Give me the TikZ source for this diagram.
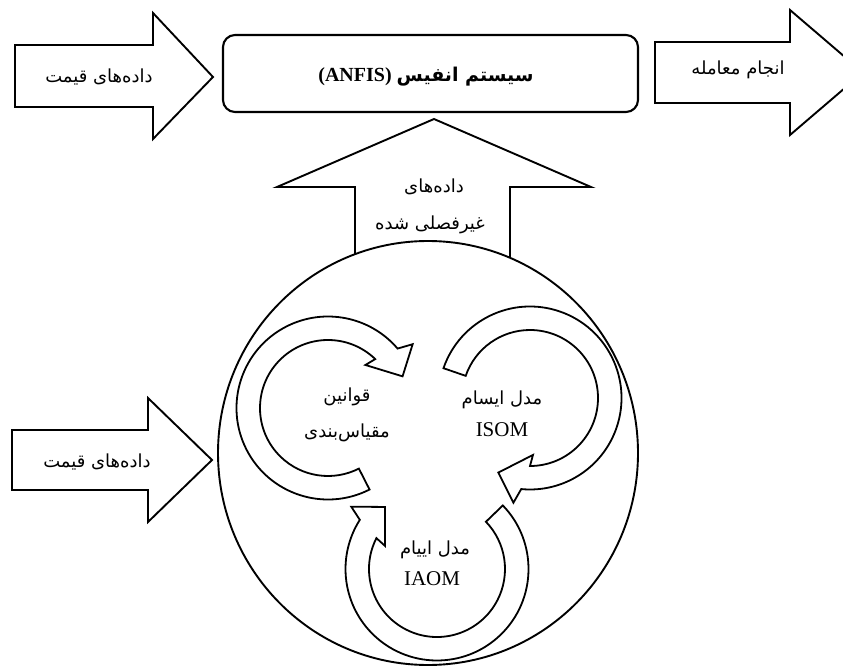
\documentclass[tikz,border=0pt]{standalone}
\usepackage{fontspec}
\setmainfont{Liberation Serif}
\newfontfamily\fa[Script=Arabic]{DejaVu Sans}
\TeXXeTstate=1
\newcommand\fatext[1]{{\fa\beginR #1\endR}}
\newcommand\cyclearrow[3]{%
  \begin{scope}[shift={(#1,#2)}]
    \pgfmathsetmacro\Bang{#3+248}
    \draw[ring] (#3:91.5) arc[start angle=#3, end angle=\Bang+8.5, radius=91.5]
      -- (\Bang+12:106) -- (\Bang+26:81) -- (\Bang:57) -- (\Bang+3:68)
      arc[start angle=\Bang+3, end angle=#3, radius=68] -- cycle;
  \end{scope}}
\tikzset{
  shp/.style={draw=black, line width=1.9pt, fill=white, line join=miter},
  ring/.style={draw=black, line width=1.8pt, fill=white, line join=miter},
  fatxt/.style={font=\fa\fontsize{18}{21}\selectfont, inner sep=0pt},
  latxt/.style={font=\fontsize{21}{24}\selectfont, inner sep=0pt},
}
\begin{document}
\begin{tikzpicture}[x=1pt,y=-1pt]
\useasboundingbox (0,0) rectangle (843,668);
\clip (0,0) rectangle (843,668);
% block arrows
\draw[shp] (15,45) -- (153,45) -- (153,13) -- (213,77) -- (153,139) -- (153,107) -- (15,107) -- cycle;
\draw[shp] (655,42) -- (790,42) -- (790,10) -- (863,72.5) -- (790,135) -- (790,103) -- (655,103) -- cycle;
\draw[shp] (12,430) -- (148,430) -- (148,398) -- (212,460) -- (148,522) -- (148,490) -- (12,490) -- cycle;
\draw[shp] (355,280) -- (355,187) -- (277,187) -- (434,119) -- (591,187) -- (510,187) -- (510,280) -- cycle;
% box
\draw[shp, line width=2.1pt, rounded corners=12pt] (223,35) rectangle (638,112);
% circle
\draw[shp] (428,453) ellipse [x radius=210, y radius=212];
% cyclic arrows
\cyclearrow{328}{408}{63}
\cyclearrow{530}{398}{199}
\cyclearrow{437}{569}{316}
% texts
\node[fatxt] (tl) at (99,77) {\fatext{داده‌های قیمت}};
\node[fatxt] (bl) at (97,462) {\fatext{داده‌های قیمت}};
\node[fatxt] (tr) at (738,70) {\fatext{انجام معامله}};
\node[inner sep=0pt, font=\fontsize{20}{24}\selectfont\bfseries] (title) at (426,77) {(ANFIS) {\fa\bfseries\fontsize{19}{24}\selectfont\beginR سیستم انفیس\endR}};
\node[fatxt] (up1) at (434,187) {\fatext{داده‌های}};
\node[fatxt] (up2) at (430,225) {\fatext{غیرفصلی شده}};
\node[fatxt] (l1) at (347,397) {\fatext{قوانین}};
\node[fatxt] (l2) at (347,433) {\fatext{مقیاس‌بندی}};
\node[fatxt] (r1) at (502,400) {\fatext{مدل ایسام}};
\node[latxt] (r2) at (502,430) {ISOM};
\node[fatxt] (b1) at (435,550) {\fatext{مدل اییام}};
\node[latxt] (b2) at (432,579) {IAOM};
\end{tikzpicture}
\end{document}
